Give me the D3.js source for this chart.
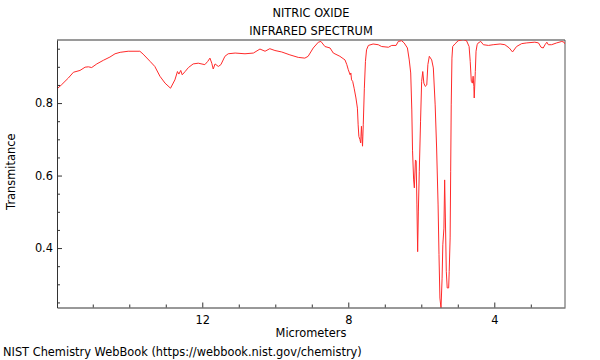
<!DOCTYPE html>
<html>
<head>
<meta charset="utf-8">
<script src="https://cdn.jsdelivr.net/npm/d3@7/dist/d3.min.js"></script>
<style>
  html, body { margin: 0; padding: 0; background: #fff; }
  svg { display: block; }
  text { font-family: "DejaVu Sans", sans-serif; fill: #000; }
</style>
</head>
<body>
<svg id="chart" width="600" height="360"></svg>
<script>
// Spectrum data (wavelength in micrometers, transmittance)
const wavelength = [
  15.98, 15.85, 15.67, 15.53, 15.35, 15.21, 15.12, 15.03, 14.89, 14.71,
  14.53, 14.39, 14.25, 14.03, 13.71, 13.62, 13.43, 13.30, 13.16, 13.02,
  12.87, 12.75, 12.68, 12.64, 12.59, 12.55, 12.47, 12.38, 12.25, 12.11,
  11.93, 11.85, 11.79, 11.74, 11.70, 11.65, 11.56, 11.49, 11.38, 11.29,
  11.10, 10.83, 10.60, 10.42, 10.28, 10.15, 10.01, 9.825, 9.60, 9.37,
  9.19, 9.10, 8.96, 8.82, 8.75, 8.64, 8.50, 8.41, 8.23, 8.09,
  8.04, 8.00, 7.95, 7.93, 7.91, 7.88, 7.84, 7.79, 7.75, 7.73,
  7.71, 7.68, 7.66, 7.64, 7.625, 7.61, 7.59, 7.56, 7.53, 7.50,
  7.45, 7.32, 7.18, 7.085, 6.90, 6.81, 6.69, 6.63, 6.54, 6.47,
  6.38, 6.33, 6.29, 6.26, 6.24, 6.21, 6.19, 6.16, 6.14, 6.12,
  6.10, 6.08, 6.055, 6.02, 5.99, 5.96, 5.93, 5.89, 5.85, 5.82,
  5.78, 5.715, 5.67, 5.62, 5.58, 5.54, 5.515, 5.49, 5.46, 5.43,
  5.41, 5.38, 5.36, 5.34, 5.315, 5.29, 5.25, 5.235, 5.21, 5.195,
  5.18, 5.16, 5.14, 5.08, 4.99, 4.85, 4.76, 4.69, 4.66, 4.63,
  4.60, 4.58, 4.56, 4.55, 4.52, 4.50, 4.47, 4.44, 4.37, 4.30,
  4.16, 4.03, 3.84, 3.71, 3.59, 3.50, 3.39, 3.25, 3.11, 2.89,
  2.79, 2.72, 2.66, 2.61, 2.56, 2.52, 2.43, 2.29, 2.15, 2.09,
  2.06
];
const transmittance = [
  0.839, 0.851, 0.869, 0.885, 0.890, 0.899, 0.900, 0.898, 0.908, 0.918,
  0.927, 0.936, 0.940, 0.943, 0.943, 0.935, 0.915, 0.901, 0.874, 0.855,
  0.841, 0.864, 0.887, 0.880, 0.890, 0.878, 0.887, 0.898, 0.908, 0.910,
  0.906, 0.915, 0.924, 0.910, 0.894, 0.908, 0.901, 0.906, 0.929, 0.936,
  0.938, 0.936, 0.938, 0.949, 0.943, 0.950, 0.945, 0.941, 0.933, 0.926,
  0.924, 0.929, 0.952, 0.968, 0.970, 0.956, 0.952, 0.938, 0.929, 0.919,
  0.906, 0.892, 0.878, 0.883, 0.864, 0.860, 0.841, 0.814, 0.786, 0.740,
  0.708, 0.699, 0.690, 0.736, 0.708, 0.681, 0.740, 0.841, 0.915, 0.947,
  0.959, 0.963, 0.961, 0.956, 0.954, 0.959, 0.959, 0.970, 0.972, 0.966,
  0.952, 0.919, 0.883, 0.781, 0.670, 0.588, 0.566, 0.643, 0.640, 0.519,
  0.390, 0.502, 0.612, 0.750, 0.860, 0.887, 0.855, 0.846, 0.850, 0.906,
  0.929, 0.919, 0.897, 0.795, 0.676, 0.519, 0.382, 0.262, 0.2345, 0.317,
  0.409, 0.455, 0.588, 0.483, 0.336, 0.290, 0.290, 0.336, 0.428, 0.612,
  0.795, 0.924, 0.956, 0.963, 0.972, 0.975, 0.972, 0.956, 0.915, 0.860,
  0.855, 0.874, 0.846, 0.814, 0.887, 0.943, 0.961, 0.966, 0.970, 0.961,
  0.959, 0.961, 0.963, 0.961, 0.952, 0.941, 0.956, 0.964, 0.966, 0.968,
  0.966, 0.954, 0.952, 0.961, 0.968, 0.961, 0.961, 0.966, 0.970, 0.968,
  0.963
];
const xMajorTicks = [12, 8, 4];
const xMinorTicks = [15, 14, 13, 11, 10, 9, 7, 6, 5, 3];
const yMajorTicks = [0.4, 0.6, 0.8];
const yMinorTicks = [0.25, 0.3, 0.35, 0.45, 0.5, 0.55, 0.65, 0.7, 0.75, 0.85, 0.9, 0.95];
const titleLines = ["NITRIC OXIDE", "INFRARED SPECTRUM"];
const xLabel = "Micrometers";
const yLabel = "Transmitance";
const footer = "NIST Chemistry WebBook (https://webbook.nist.gov/chemistry)";

(function () {
const data = wavelength.map((w, i) => ({ w, t: transmittance[i] }));

const svg = d3.select("#chart");
const pL = 57, pR = 565, pT = 40, pB = 307.5;
const fs = 11.4;

const x = d3.scaleLinear().domain([15.98, 2.063]).range([pL, pR]);
const y = d3.scaleLinear().domain([0.236, 0.974]).range([pB, pT]);

svg.append("defs").append("clipPath").attr("id", "plotclip")
  .append("rect").attr("x", pL).attr("y", pT)
  .attr("width", pR - pL).attr("height", pB - pT);

// frame: top & right
svg.append("line").attr("x1", pL).attr("x2", pR).attr("y1", pT).attr("y2", pT)
  .attr("stroke", "#9a9a9a").attr("stroke-width", 2);
svg.append("line").attr("x1", pR).attr("x2", pR).attr("y1", pT).attr("y2", pB)
  .attr("stroke", "#555").attr("stroke-width", 1);

// line
const line = d3.line().x(d => x(d.w)).y(d => y(d.t));
svg.append("path").datum(data)
  .attr("clip-path", "url(#plotclip)")
  .attr("fill", "none").attr("stroke", "#ff2a2a").attr("stroke-width", 1)
  .attr("stroke-linejoin", "round")
  .attr("d", line);

// x axis
const gx = svg.append("g").attr("transform", `translate(0,${pB})`);
gx.call(d3.axisBottom(x).tickValues(xMinorTicks).tickSize(-3).tickFormat(""));
gx.call(g => g.select(".domain").remove());
const gx2 = svg.append("g").attr("transform", `translate(0,${pB})`);
gx2.call(d3.axisBottom(x).tickValues(xMajorTicks).tickSizeInner(-5).tickSizeOuter(0)
  .tickPadding(8).tickFormat(d3.format("d")));
gx2.selectAll("text").style("font-size", fs + "px").style("font-family", "DejaVu Sans, sans-serif");

// y axis
const gy = svg.append("g").attr("transform", `translate(${pL},0)`);
gy.call(d3.axisLeft(y).tickValues(yMinorTicks).tickSize(-3).tickFormat(""));
gy.call(g => g.select(".domain").remove());
const gy2 = svg.append("g").attr("transform", `translate(${pL},0)`);
gy2.call(d3.axisLeft(y).tickValues(yMajorTicks).tickSizeInner(-5).tickSizeOuter(0)
  .tickPadding(4).tickFormat(d3.format(".1f")));
gy2.selectAll("text").style("font-size", fs + "px").style("font-family", "DejaVu Sans, sans-serif");
svg.selectAll(".domain, .tick line").attr("stroke", "#333");

// titles
svg.selectAll(".title").data(titleLines).enter().append("text")
  .attr("class", "title")
  .attr("x", (pL + pR) / 2).attr("y", (d, i) => 16.5 + i * 18)
  .attr("text-anchor", "middle").style("font-size", fs + "px").text(d => d);

svg.append("text").attr("x", (pL + pR) / 2).attr("y", 337)
  .attr("text-anchor", "middle").style("font-size", fs + "px").text(xLabel);

svg.append("text").attr("transform", `translate(15,${(pT + pB) / 2 - 2}) rotate(-90)`)
  .attr("text-anchor", "middle").style("font-size", fs + "px").text(yLabel);

svg.append("text").attr("x", 3).attr("y", 356)
  .style("font-size", fs + "px").text(footer);
})();
</script>
</body>
</html>
